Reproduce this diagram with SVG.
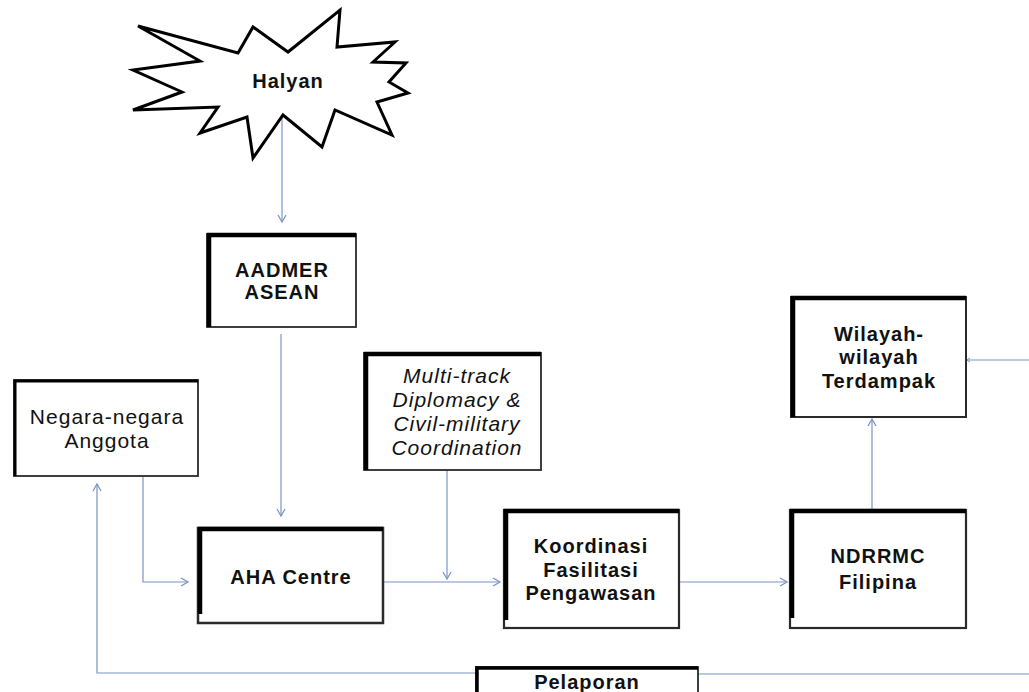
<svg xmlns="http://www.w3.org/2000/svg" width="1029" height="692" viewBox="0 0 1029 692">
<style>
.bg{fill:#ffffff}
.box{fill:#ffffff;stroke:#2a2a2a;stroke-width:1.8}
.edge{fill:none;stroke:#000000;stroke-width:4.5}
.burst{fill:#ffffff;stroke:#000000;stroke-width:3;stroke-linejoin:miter}
.t{font-family:"Liberation Sans",Arial,sans-serif;font-size:20px;font-weight:bold;fill:#111111;text-anchor:middle;letter-spacing:1px}
.r{font-weight:normal;font-size:21px}
.i{font-style:italic}
.c{fill:none;stroke:#7b96c4;stroke-width:1.2}
</style>
<defs>
<marker id="arr" markerWidth="10" markerHeight="10" refX="8" refY="5" orient="auto" markerUnits="userSpaceOnUse">
<path d="M1,1 L8,5 L1,9" fill="none" stroke="#7b96c4" stroke-width="1.3"/>
</marker>
<marker id="arrs" markerWidth="6" markerHeight="6" refX="4" refY="3" orient="auto" markerUnits="userSpaceOnUse">
<path d="M1,1 L4,3 L1,5" fill="none" stroke="#7b96c4" stroke-width="1"/>
</marker>
</defs>
<rect class="bg" x="0" y="0" width="1029" height="692"/>

<g id="connectors">
<path class="c" d="M282,118 L282,222" marker-end="url(#arr)"/>
<path class="c" d="M281,334 L281,516" marker-end="url(#arr)"/>
<path class="c" d="M143,477 L143,582 L188,582" marker-end="url(#arr)"/>
<path class="c" d="M383,582 L500,582" marker-end="url(#arr)"/>
<path class="c" d="M447,470 L447,579" marker-end="url(#arr)"/>
<path class="c" d="M679,582 L787,582" marker-end="url(#arr)"/>
<path class="c" d="M872,509 L872,419" marker-end="url(#arr)"/>
<path class="c" d="M1029,360 L967,360" marker-end="url(#arrs)"/>
<path class="c" d="M698,674 L1029,674"/>
<path class="c" d="M475,673 L97,673 L97,484" marker-end="url(#arr)"/>
</g>

<g id="halyan">
<polygon class="burst" points="138,26 238,53 253,27 288,52 340,10 337,47 395,42 373,62 406,63 389,82 408,93 377,102 392,135 335,110 322,147 283,115 253,158 247,117 200,133 218,107 133,110 182,92 133,70 200,61"/>
<text class="t" x="288" y="88">Halyan</text>
</g>

<g id="aadmer">
<rect class="box" x="207" y="234" width="149" height="93"/>
<path class="edge" d="M209,327 L209,235 L356,235"/>
<text class="t" x="282" y="277">AADMER</text>
<text class="t" x="282" y="299">ASEAN</text>
</g>

<g id="negara">
<rect class="box" x="14" y="380" width="184" height="96"/>
<path class="edge" d="M15,476 L15,381 L198,381" style="stroke-width:3"/>
<text class="t r" x="107" y="424">Negara-negara</text>
<text class="t r" x="107" y="448">Anggota</text>
</g>

<g id="multitrack">
<rect class="box" x="364" y="353" width="177" height="117"/>
<path class="edge" d="M366,470 L366,354 L541,354"/>
<text class="t r i" x="457" y="383">Multi-track</text>
<text class="t r i" x="457" y="407">Diplomacy &amp;</text>
<text class="t r i" x="457" y="431">Civil-military</text>
<text class="t r i" x="457" y="455">Coordination</text>
</g>

<g id="aha">
<rect class="box" x="198" y="528" width="185" height="95" style="stroke-width:2.5"/>
<path class="edge" d="M200,614 L200,529 L383,529"/>
<text class="t" x="291" y="584">AHA Centre</text>
</g>

<g id="koordinasi">
<rect class="box" x="504" y="510" width="175" height="118" style="stroke-width:2.2"/>
<path class="edge" d="M506,620 L506,511 L679,511"/>
<text class="t" x="591" y="553">Koordinasi</text>
<text class="t" x="591" y="577">Fasilitasi</text>
<text class="t" x="591" y="600">Pengawasan</text>
</g>

<g id="ndrrmc">
<rect class="box" x="790" y="510" width="176" height="118" style="stroke-width:2.2"/>
<path class="edge" d="M792,618 L792,511 L966,511"/>
<text class="t" x="878" y="563">NDRRMC</text>
<text class="t" x="878" y="589">Filipina</text>
</g>

<g id="wilayah">
<rect class="box" x="791" y="297" width="175" height="120" style="stroke-width:2"/>
<path class="edge" d="M793,417 L793,298 L966,298"/>
<text class="t" x="879" y="341">Wilayah-</text>
<text class="t" x="879" y="364">wilayah</text>
<text class="t" x="879" y="388">Terdampak</text>
</g>

<g id="pelaporan">
<rect class="box" x="476" y="667" width="222" height="40"/>
<path class="edge" d="M477,692 L477,668 L698,668" style="stroke-width:3.5"/>
<text class="t" x="587" y="689">Pelaporan</text>
</g>
</svg>
